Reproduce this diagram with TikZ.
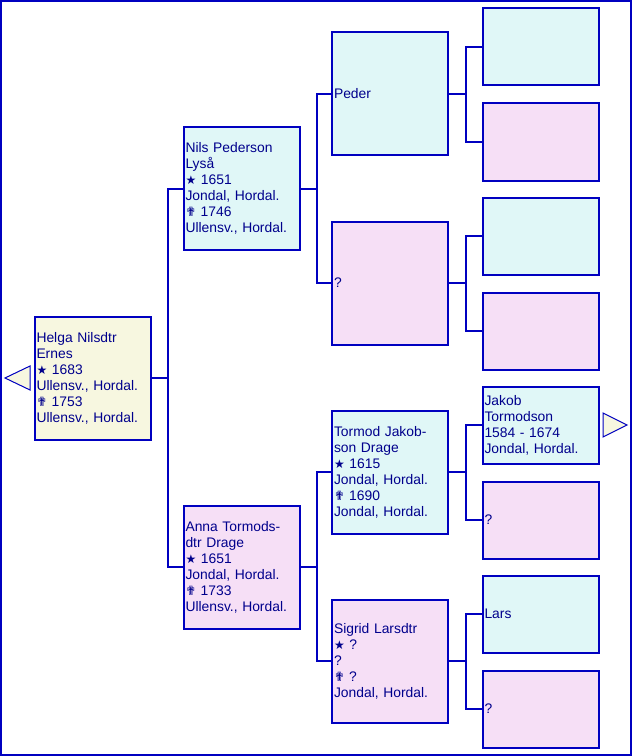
\documentclass[tikz,border=0pt]{standalone}
\usepackage{fontspec}
\setmainfont{Liberation Sans}
\newfontfamily\symfont{DejaVu Sans}
\usetikzlibrary{positioning}
\definecolor{lineblue}{RGB}{0,0,192}
\definecolor{textblue}{RGB}{0,0,140}
\definecolor{malefill}{RGB}{224,247,247}
\definecolor{femalefill}{RGB}{246,223,246}
\definecolor{rootfill}{RGB}{247,247,224}
\newcommand{\born}{{\symfont\fontsize{9}{12}\selectfont ★}}
\newcommand{\died}{{\symfont\fontsize{9.5}{12}\selectfont ✟}}
\tikzset{
    x=0.75pt, y=-0.75pt, % one unit is one pixel of the reference
    person/.style={draw=lineblue, line width=1.5pt, text=textblue,
        font=\fontsize{10.4}{12}\selectfont, align=left, text width=84pt,
        inner xsep=1.5pt, minimum width=87pt, minimum height=92.25pt},
    small/.style={person, minimum height=57.75pt},
    male/.style={fill=malefill},
    female/.style={fill=femalefill},
    link/.style={draw=lineblue, line width=1.5pt},
}
\begin{document}
\begin{tikzpicture}
    \useasboundingbox (0,0) rectangle (632,756);
    \draw[lineblue, line width=1.5pt] (1,1) rectangle (631,755);
    % proband
    \node[person, fill=rootfill] (helga) at (92.5,378) {Helga Nilsdtr\\Ernes\\\born{} 1683\\Ullensv., Hordal.\\\died{} 1753\\Ullensv., Hordal.};
    % parents
    \node[person, male] (nils) at (241.5,188.5) {Nils Pederson\\Lyså\\\born{} 1651\\Jondal, Hordal.\\\died{} 1746\\Ullensv., Hordal.};
    \node[person, female] (anna) at (241.5,567) {Anna Tormods-\\dtr Drage\\\born{} 1651\\Jondal, Hordal.\\\died{} 1733\\Ullensv., Hordal.};
    % grandparents
    \node[person, male] (peder) at (390,94) {Peder};
    \node[person, female] (nilsmor) at (390,283) {?};
    \node[person, male] (tormod) at (390,472) {Tormod Jakob-\\son Drage\\\born{} 1615\\Jondal, Hordal.\\\died{} 1690\\Jondal, Hordal.};
    \node[person, female] (sigrid) at (390,661) {Sigrid Larsdtr\\\born{} ?\\?\\\died{} ?\\Jondal, Hordal.};
    % great-grandparents
    \node[small, male] (pederfar) at (540.5,47) {};
    \node[small, female] (pedermor) at (540.5,142) {};
    \node[small, male] (morfar) at (540.5,236) {};
    \node[small, female] (mormor) at (540.5,331) {};
    \node[small, male] (jakob) at (540.5,425) {Jakob\\Tormodson\\1584 - 1674\\Jondal, Hordal.};
    \node[small, female] (tormodmor) at (540.5,520) {?};
    \node[small, male] (lars) at (540.5,614) {Lars};
    \node[small, female] (sigridmor) at (540.5,709) {?};
    % links
    \draw[link] (helga.east) -- ++(16,0) |- (nils.west);
    \draw[link] (helga.east) -- ++(16,0) |- (anna.west);
    \draw[link] (nils.east) -- ++(16,0) |- (peder.west);
    \draw[link] (nils.east) -- ++(16,0) |- (nilsmor.west);
    \draw[link] (anna.east) -- ++(16,0) |- (tormod.west);
    \draw[link] (anna.east) -- ++(16,0) |- (sigrid.west);
    \draw[link] (peder.east) -- ++(17,0) |- (pederfar.west);
    \draw[link] (peder.east) -- ++(17,0) |- (pedermor.west);
    \draw[link] (nilsmor.east) -- ++(17,0) |- (morfar.west);
    \draw[link] (nilsmor.east) -- ++(17,0) |- (mormor.west);
    \draw[link] (tormod.east) -- ++(17,0) |- (jakob.west);
    \draw[link] (tormod.east) -- ++(17,0) |- (tormodmor.west);
    \draw[link] (sigrid.east) -- ++(17,0) |- (lars.west);
    \draw[link] (sigrid.east) -- ++(17,0) |- (sigridmor.west);
    % more generations
    \draw[lineblue, line width=0.75pt, fill=rootfill] (5,378) -- (30,366) -- (30,390) -- cycle;
    \draw[lineblue, line width=0.75pt, fill=rootfill] (627,425) -- (603,413) -- (603,437) -- cycle;
\end{tikzpicture}
\end{document}
